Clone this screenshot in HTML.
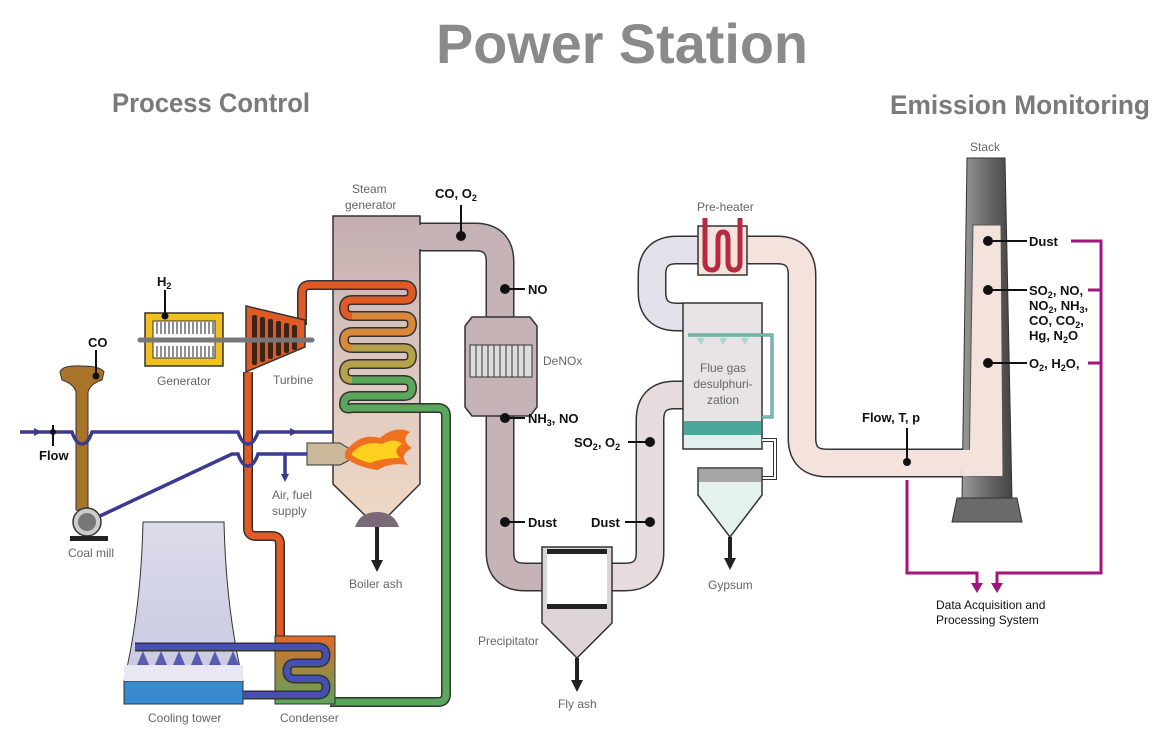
<!DOCTYPE html>
<html><head><meta charset="utf-8"><style>
html,body{margin:0;padding:0;background:#fff;}
svg{display:block;font-family:"Liberation Sans",sans-serif;}
.lb{fill:#666;font-size:12px;}
.m{fill:#111;font-size:13px;font-weight:bold;}
</style></head><body>
<svg width="1155" height="731" viewBox="0 0 1155 731" xmlns="http://www.w3.org/2000/svg">
<defs>
<linearGradient id="sg" x1="0" y1="0" x2="0" y2="1"><stop offset="0" stop-color="#c3aeb1"/><stop offset="0.5" stop-color="#dcc8c0"/><stop offset="1" stop-color="#f0d9c4"/></linearGradient>
<linearGradient id="st" x1="0" y1="0" x2="1" y2="0"><stop offset="0" stop-color="#9a9a9a"/><stop offset="0.5" stop-color="#6a6a6a"/><stop offset="1" stop-color="#444"/></linearGradient>
<linearGradient id="cd" x1="0" y1="0" x2="0" y2="1"><stop offset="0" stop-color="#e06a2a"/><stop offset="1" stop-color="#5aa65a"/></linearGradient>
<linearGradient id="ct" x1="0" y1="0" x2="0" y2="1"><stop offset="0" stop-color="#dcdcec"/><stop offset="1" stop-color="#c8c8e0"/></linearGradient>
</defs>

<text x="436" y="63" font-size="56" font-weight="bold" fill="#8a8a8a" textLength="372" lengthAdjust="spacingAndGlyphs">Power Station</text>
<text x="112" y="112" font-size="27" font-weight="bold" fill="#7a7a7a" textLength="198" lengthAdjust="spacingAndGlyphs">Process Control</text>
<text x="890" y="114" font-size="27" font-weight="bold" fill="#7a7a7a" textLength="260" lengthAdjust="spacingAndGlyphs">Emission Monitoring</text>

<g fill="none" stroke-linejoin="round">
<path d="M415,237 H475 Q500,237 500,262 V552 Q500,577 525,577 H545" stroke="#333" stroke-width="29"/>
<path d="M415,237 H475 Q500,237 500,262 V552 Q500,577 525,577 H545" stroke="#c6b3b6" stroke-width="26"/>
<path d="M608,577 H625 Q650,577 650,552 V420 Q650,395 675,395 H688" stroke="#333" stroke-width="29"/>
<path d="M608,577 H625 Q650,577 650,552 V420 Q650,395 675,395 H688" stroke="#e6dcdd" stroke-width="26"/>
<path d="M688,317 H677 Q652,317 652,292 V275 Q652,250 677,250 H702" stroke="#333" stroke-width="29"/>
<path d="M688,317 H677 Q652,317 652,292 V275 Q652,250 677,250 H702" stroke="#e3e1ea" stroke-width="26"/>
<path d="M743,250 H777 Q802,250 802,275 V438 Q802,463 827,463 H975" stroke="#333" stroke-width="29"/>
<path d="M743,250 H777 Q802,250 802,275 V438 Q802,463 827,463 H975" stroke="#f3e3dc" stroke-width="26"/>
</g>

<polygon points="472,317 530,317 537,326 537,407 530,416 472,416 465,407 465,326" fill="#c6b3b6" stroke="#333" stroke-width="1.5"/>
<rect x="470" y="345" width="62" height="32" fill="#ddd" stroke="#333"/>
<g stroke="#333" stroke-width="1">
<line x1="476" y1="345" x2="476" y2="377"/><line x1="482" y1="345" x2="482" y2="377"/><line x1="488" y1="345" x2="488" y2="377"/><line x1="494" y1="345" x2="494" y2="377"/><line x1="500" y1="345" x2="500" y2="377"/><line x1="506" y1="345" x2="506" y2="377"/><line x1="512" y1="345" x2="512" y2="377"/><line x1="518" y1="345" x2="518" y2="377"/><line x1="524" y1="345" x2="524" y2="377"/>
</g>
<text x="543" y="365" class="lb">DeNOx</text>

<polygon points="542,547 612,547 612,623 577,658 542,623" fill="#dcd4d6" stroke="#333" stroke-width="1.5"/>
<rect x="547" y="552" width="60" height="53" fill="#fff"/>
<rect x="547" y="549" width="60" height="5" fill="#222"/>
<rect x="547" y="604" width="60" height="5" fill="#222"/>
<line x1="577" y1="658" x2="577" y2="682" stroke="#222" stroke-width="4"/>
<polygon points="571,680 583,680 577,692" fill="#222"/>
<text x="478" y="645" class="lb">Precipitator</text>
<text x="558" y="708" class="lb">Fly ash</text>

<rect x="683" y="303" width="79" height="146" fill="#e8e4e6" stroke="#333" stroke-width="1.5"/>
<rect x="684" y="421" width="77" height="14" fill="#4aa79a"/>
<rect x="684" y="435" width="77" height="13" fill="#e2f1ee"/>
<path d="M688,335 H772 V417 H762" fill="none" stroke="#2f8a7e" stroke-width="3"/>
<path d="M688,335 H772 V417 H762" fill="none" stroke="#bfe3dc" stroke-width="1"/>
<polygon points="697,338 705,338 701,345" fill="#a9d8cf"/><polygon points="719,338 727,338 723,345" fill="#a9d8cf"/><polygon points="741,338 749,338 745,345" fill="#a9d8cf"/>
<text x="723" y="372" class="lb" text-anchor="middle">Flue gas</text>
<text x="723" y="388" class="lb" text-anchor="middle">desulphuri-</text>
<text x="723" y="404" class="lb" text-anchor="middle">zation</text>
<path d="M762,440 H775 V478 H762" fill="none" stroke="#333" stroke-width="4"/>
<path d="M762,440 H775 V478 H762" fill="none" stroke="#fff" stroke-width="2"/>
<polygon points="698,468 762,468 762,495 730,537 698,495" fill="#e4f1ee" stroke="#333" stroke-width="1.5"/>
<rect x="699" y="469" width="62" height="13" fill="#a6a6a6"/>
<line x1="730" y1="537" x2="730" y2="560" stroke="#222" stroke-width="4"/>
<polygon points="724,558 736,558 730,570" fill="#222"/>
<text x="708" y="589" class="lb">Gypsum</text>

<rect x="698" y="226" width="49" height="49" fill="#f3e3dc" stroke="#333" stroke-width="1.5"/>
<path d="M705,218 V262 Q705,270 712,270 Q718,270 718,262 V240 Q718,232 723,232 Q728,232 728,240 V262 Q728,270 734,270 Q740,270 740,262 V218" fill="none" stroke="#b8283e" stroke-width="5"/>
<text x="697" y="211" class="lb">Pre-heater</text>

<polygon points="967,158 1005,158 1012,500 962,500" fill="url(#st)" stroke="#333"/>
<polygon points="957,498 1017,498 1022,522 952,522" fill="#6a6a6a" stroke="#333"/>
<polygon points="973,225 1001,225 1003,476 969,476" fill="#f3e3dc" stroke="#555"/>
<rect x="962" y="450" width="40" height="26" fill="#f3e3dc"/>
<text x="970" y="151" class="lb">Stack</text>
<g fill="#111" stroke="#111" stroke-width="2">
<circle cx="988" cy="241" r="4"/><line x1="988" y1="241" x2="1027" y2="241"/>
<circle cx="988" cy="290" r="4"/><line x1="988" y1="290" x2="1027" y2="290"/>
<circle cx="988" cy="363" r="4"/><line x1="988" y1="363" x2="1027" y2="363"/>
</g>
<text x="1029" y="246" class="m">Dust</text>
<text x="1029" y="295" class="m">SO<tspan font-size="9" dy="3">2</tspan><tspan dy="-3">, NO,</tspan></text>
<text x="1029" y="310" class="m">NO<tspan font-size="9" dy="3">2</tspan><tspan dy="-3">, NH</tspan><tspan font-size="9" dy="3">3</tspan><tspan dy="-3">,</tspan></text>
<text x="1029" y="325" class="m">CO, CO<tspan font-size="9" dy="3">2</tspan><tspan dy="-3">,</tspan></text>
<text x="1029" y="340" class="m">Hg, N<tspan font-size="9" dy="3">2</tspan><tspan dy="-3">O</tspan></text>
<text x="1029" y="368" class="m">O<tspan font-size="9" dy="3">2</tspan><tspan dy="-3">, H</tspan><tspan font-size="9" dy="3">2</tspan><tspan dy="-3">O,</tspan></text>
<g fill="none" stroke="#a3157d" stroke-width="3">
<path d="M1071,241 H1101 V573 H997 V585"/>
<line x1="1088" y1="290" x2="1101" y2="290"/><line x1="1088" y1="363" x2="1101" y2="363"/>
<path d="M907,480 V573 H977 V585"/>
</g>
<polygon points="971,583 983,583 977,593" fill="#a3157d"/>
<polygon points="991,583 1003,583 997,593" fill="#a3157d"/>
<text x="936" y="609" fill="#111" font-size="12">Data Acquisition and</text>
<text x="936" y="624" fill="#111" font-size="12">Processing System</text>
<line x1="907" y1="428" x2="907" y2="462" stroke="#111" stroke-width="2"/><circle cx="907" cy="462" r="4" fill="#111"/>
<text x="862" y="422" class="m" font-weight="normal">Flow, T, p</text>

<g fill="#111" stroke="#111" stroke-width="2">
<line x1="461" y1="205" x2="461" y2="236"/><circle cx="461" cy="236" r="4"/>
<circle cx="505" cy="289" r="4"/><line x1="505" y1="289" x2="525" y2="289"/>
<circle cx="505" cy="418" r="4"/><line x1="505" y1="418" x2="525" y2="418"/>
<circle cx="505" cy="522" r="4"/><line x1="505" y1="522" x2="525" y2="522"/>
<circle cx="650" cy="442" r="4"/><line x1="628" y1="442" x2="650" y2="442"/>
<circle cx="650" cy="522" r="4"/><line x1="625" y1="522" x2="650" y2="522"/>
</g>
<text x="435" y="198" class="m" font-weight="normal">CO, O<tspan font-size="9" dy="3">2</tspan></text>
<text x="528" y="294" class="m" font-weight="normal">NO</text>
<text x="528" y="423" class="m" font-weight="normal">NH<tspan font-size="9" dy="3">3</tspan><tspan dy="-3">, NO</tspan></text>
<text x="528" y="527" class="m" font-weight="normal">Dust</text>
<text x="574" y="447" class="m" font-weight="normal">SO<tspan font-size="9" dy="3">2</tspan><tspan dy="-3">, O</tspan><tspan font-size="9" dy="3">2</tspan></text>
<text x="591" y="527" class="m" font-weight="normal">Dust</text>

<polygon points="333,216 420,216 420,484 377,527 333,484" fill="url(#sg)" stroke="#333" stroke-width="1.5"/>
<rect x="418" y="225" width="6" height="24" fill="#c6b3b6"/>
<path d="M355,527 Q360,512 377,512 Q394,512 399,527 Z" fill="#7a6a78"/>
<line x1="377" y1="527" x2="377" y2="562" stroke="#222" stroke-width="4"/>
<polygon points="371,560 383,560 377,572" fill="#222"/>
<text x="352" y="193" class="lb">Steam</text>
<text x="345" y="209" class="lb">generator</text>
<text x="349" y="588" class="lb">Boiler ash</text>

<g fill="none" stroke-linejoin="round">
<path d="M302,325 V293 Q302,285 310,285 H404 Q412,285 412,293 Q412,300 404,300 H352 Q344,300 344,308 Q344,316 352,316" stroke="#333" stroke-width="10"/>
<path d="M302,325 V293 Q302,285 310,285 H404 Q412,285 412,293 Q412,300 404,300 H352 Q344,300 344,308 Q344,316 352,316" stroke="#e05a25" stroke-width="7"/>
<path d="M352,316 H404 Q412,316 412,324 Q412,332 404,332 H352 Q344,332 344,340 Q344,348 352,348" stroke="#333" stroke-width="10"/>
<path d="M352,316 H404 Q412,316 412,324 Q412,332 404,332 H352 Q344,332 344,340 Q344,348 352,348" stroke="#d88a3a" stroke-width="7"/>
<path d="M352,348 H404 Q412,348 412,356 Q412,364 404,364 H352 Q344,364 344,372 Q344,380 352,380" stroke="#333" stroke-width="10"/>
<path d="M352,348 H404 Q412,348 412,356 Q412,364 404,364 H352 Q344,364 344,372 Q344,380 352,380" stroke="#b6a24a" stroke-width="7"/>
<path d="M352,380 H404 Q412,380 412,388 Q412,396 404,396 H352 Q344,396 344,404 Q344,410 352,408 H438 Q446,408 446,416 V694 Q446,702 438,702 H330" stroke="#333" stroke-width="10"/>
<path d="M352,380 H404 Q412,380 412,388 Q412,396 404,396 H352 Q344,396 344,404 Q344,410 352,408 H438 Q446,408 446,416 V694 Q446,702 438,702 H330" stroke="#5aa65a" stroke-width="7"/>
<path d="M248,372 V528 Q248,536 256,536 H272 Q280,536 280,544 V640" stroke="#333" stroke-width="10"/>
<path d="M248,372 V528 Q248,536 256,536 H272 Q280,536 280,544 V640" stroke="#e05a25" stroke-width="7"/>
</g>

<polygon points="246,306 305,320 305,347 246,372" fill="#e05a25" stroke="#333" stroke-width="1.5"/>
<g fill="#3a2418">
<rect x="252" y="315" width="5" height="50" rx="2"/><rect x="260" y="317" width="5" height="45" rx="2"/><rect x="268" y="319" width="5" height="40" rx="2"/><rect x="276" y="321" width="5" height="35" rx="2"/><rect x="284" y="323" width="5" height="30" rx="2"/><rect x="292" y="325" width="5" height="25" rx="2"/>
</g>
<line x1="140" y1="340" x2="312" y2="340" stroke="#777" stroke-width="5" stroke-linecap="round"/>
<text x="273" y="384" class="lb">Turbine</text>

<rect x="145" y="313" width="78" height="53" fill="#f0c020" stroke="#333" stroke-width="1.5"/>
<rect x="153" y="321" width="62" height="37" fill="#fff" stroke="#333"/>
<g stroke="#555" stroke-width="1.3">
<path d="M157,322 V334 M161,322 V334 M165,322 V334 M169,322 V334 M173,322 V334 M177,322 V334 M181,322 V334 M185,322 V334 M189,322 V334 M193,322 V334 M197,322 V334 M201,322 V334 M205,322 V334 M209,322 V334 M213,322 V334"/>
<path d="M157,346 V357 M161,346 V357 M165,346 V357 M169,346 V357 M173,346 V357 M177,346 V357 M181,346 V357 M185,346 V357 M189,346 V357 M193,346 V357 M197,346 V357 M201,346 V357 M205,346 V357 M209,346 V357 M213,346 V357"/>
</g>
<line x1="140" y1="340" x2="228" y2="340" stroke="#777" stroke-width="5" stroke-linecap="round"/>
<line x1="165" y1="290" x2="165" y2="316" stroke="#111" stroke-width="2"/><circle cx="165" cy="316" r="3.5" fill="#111"/>
<text x="157" y="286" class="m" font-weight="normal">H<tspan font-size="9" dy="3">2</tspan></text>
<text x="157" y="385" class="lb">Generator</text>

<polygon points="307,443 340,443 348,448 348,461 340,465 307,465" fill="#c9b89a" stroke="#333"/>
<path d="M345,452 Q360,432 380,438 Q395,425 410,432 Q400,440 412,448 Q398,455 408,465 Q390,462 378,470 Q360,468 345,458 Z" fill="#f07020"/>
<path d="M352,453 Q365,440 382,444 Q395,437 402,444 Q392,450 400,458 Q382,458 370,463 Q358,460 352,455 Z" fill="#ffd020"/>

<path d="M60,372 Q62,365 82,366 Q100,366 104,372 L102,380 Q90,384 88,392 L88,510 L76,510 L76,392 Q74,384 62,380 Z" fill="#a8742a" stroke="#333"/>
<circle cx="87" cy="522" r="14" fill="#ccc" stroke="#333" stroke-width="1.5"/>
<circle cx="87" cy="522" r="9" fill="#777"/>
<rect x="70" y="536" width="38" height="5" fill="#222"/>
<line x1="96" y1="350" x2="96" y2="375" stroke="#111" stroke-width="2"/><circle cx="96" cy="376" r="3.5" fill="#111"/>
<text x="88" y="347" class="m" font-weight="normal">CO</text>
<text x="68" y="557" class="lb">Coal mill</text>

<g fill="none" stroke="#3a3a90" stroke-width="3.5">
<path d="M20,432 H72 Q76,444 82,444 Q88,444 92,432 H238 Q242,444 248,444 Q254,444 258,432 H333"/>
<path d="M100,516 L232,454 H238 Q242,466 248,466 Q254,466 258,454 H307"/>
<path d="M285,454 V478"/>
</g>
<polygon points="34,428 42,432 34,436" fill="#3a3a90"/>
<polygon points="290,428 298,432 290,436" fill="#3a3a90"/>
<polygon points="281,474 289,474 285,482" fill="#3a3a90"/>
<line x1="53" y1="425" x2="53" y2="446" stroke="#111" stroke-width="2"/><circle cx="53" cy="432" r="3" fill="#111"/>
<text x="39" y="460" class="m" font-weight="normal">Flow</text>
<text x="272" y="499" class="lb">Air, fuel</text>
<text x="272" y="515" class="lb">supply</text>

<path d="M143,522 H224 Q226,610 243,681 H124 Q141,610 143,522 Z" fill="url(#ct)" stroke="#333" stroke-width="1"/>
<rect x="124" y="681" width="119" height="23" fill="#3a8ad0" stroke="#333"/>
<rect x="124" y="665" width="119" height="16" fill="#e8e8f4"/>
<g fill="#5a5ab0">
<polygon points="143,651 137,665 149,665"/><polygon points="161,651 155,665 167,665"/><polygon points="179,651 173,665 185,665"/><polygon points="197,651 191,665 203,665"/><polygon points="215,651 209,665 221,665"/><polygon points="233,651 227,665 239,665"/>
</g>
<text x="148" y="722" class="lb">Cooling tower</text>

<rect x="275" y="636" width="60" height="68" fill="url(#cd)" stroke="#333"/>
<g fill="none">
<path d="M135,647 H318 Q326,647 326,655 Q326,663 318,663 H295 Q287,663 287,671 Q287,679 295,679 H318 Q326,679 326,687 Q326,695 318,695 H243" stroke="#333" stroke-width="9"/>
<path d="M135,647 H318 Q326,647 326,655 Q326,663 318,663 H295 Q287,663 287,671 Q287,679 295,679 H318 Q326,679 326,687 Q326,695 318,695 H243" stroke="#4650b0" stroke-width="6"/>
</g>
<text x="280" y="722" class="lb">Condenser</text>
</svg>
</body></html>
